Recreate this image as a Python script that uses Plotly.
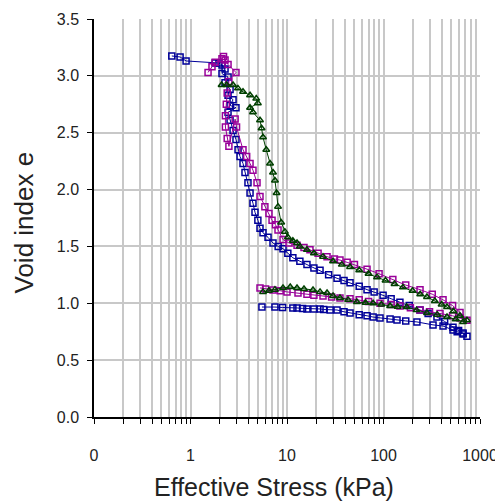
import plotly.graph_objects as go

# ---- data (effective stress kPa, void index e) ----
blue_load_x = [0.64, 0.78, 0.90, 1.80, 1.97, 2.12, 2.28, 2.12, 2.45, 2.28, 2.57, 2.45, 2.76, 2.57, 2.96, 2.45, 2.57, 2.76, 2.96, 3.11,
               3.26, 3.50, 3.67, 3.94, 4.14, 4.44, 4.66, 4.99, 5.25, 5.64, 6.36, 7.16, 8.1, 9.09, 10.2, 11.5, 13.6, 16.1, 19, 22,
               27, 33, 39, 45, 56, 67.5, 80, 99, 120, 148, 185, 239, 290, 358, 430, 525, 600, 667, 733]
blue_load_e = [3.175, 3.166, 3.131, 3.113, 3.113, 3.096, 3.06, 3.02, 2.99, 2.94, 2.88, 2.83, 2.79, 2.74, 2.72, 2.68, 2.61, 2.52, 2.44, 2.35,
               2.29, 2.23, 2.15, 2.06, 1.97, 1.88, 1.80, 1.73, 1.66, 1.62, 1.58, 1.53, 1.50, 1.48, 1.44, 1.40, 1.37, 1.34, 1.31, 1.29,
               1.25, 1.22, 1.20, 1.18, 1.15, 1.12, 1.10, 1.07, 1.04, 1.01, 0.98, 0.94, 0.91, 0.88, 0.84, 0.79, 0.76, 0.73, 0.71]
blue_unload_x = [667, 580, 525, 414, 326, 222, 170, 138, 117, 92, 78, 67.5, 56, 45, 39, 33, 28, 24, 22, 19, 16.1, 14.5, 12.7, 11.5, 9.0, 7.5, 5.5]
blue_unload_e = [0.739, 0.75, 0.765, 0.80, 0.81, 0.836, 0.845, 0.853, 0.862, 0.870, 0.879, 0.89, 0.90, 0.915, 0.925, 0.941, 0.941, 0.945, 0.950, 0.950, 0.950, 0.955, 0.959, 0.959, 0.963, 0.967, 0.967]

purple_load_x = [1.52, 1.67, 1.80, 2.12, 2.20, 2.28, 2.45, 2.96, 2.50, 2.40, 2.35, 2.30, 2.30, 2.40, 2.50, 2.90, 3.0, 3.5, 3.82, 4.14,
                 4.44, 4.89, 5.25, 5.9, 6.5, 7.0, 7.6, 8.07, 9.1, 10.5, 12.7, 15, 17.3, 21, 26, 31, 35.4, 42, 50, 67.5,
                 90, 125, 170, 239, 320, 414, 520, 621, 733]
purple_load_e = [3.03, 3.08, 3.12, 3.15, 3.17, 3.14, 3.10, 3.03, 2.95, 2.85, 2.75, 2.65, 2.55, 2.45, 2.38, 2.62, 2.55, 2.35, 2.29, 2.23,
                 2.17, 2.06, 1.94, 1.85, 1.79, 1.73, 1.69, 1.645, 1.56, 1.53, 1.51, 1.49, 1.47, 1.44, 1.41, 1.39, 1.38, 1.36, 1.34, 1.30,
                 1.26, 1.21, 1.16, 1.12, 1.08, 1.03, 0.98, 0.92, 0.85]
purple_unload_x = [621, 520, 385, 300, 239, 190, 148, 120, 92, 70, 56, 45, 35.4, 29, 23.6, 19, 16.1, 13, 10, 8.5, 7.16, 6, 5.25]
purple_unload_e = [0.87, 0.89, 0.91, 0.925, 0.94, 0.96, 0.976, 0.99, 1.0, 1.015, 1.03, 1.04, 1.047, 1.055, 1.064, 1.07, 1.08, 1.09, 1.10, 1.11, 1.117, 1.125, 1.135]

green_load_x = [2.1, 2.37, 2.76, 3.1, 3.5, 4.14, 4.8, 4.99, 4.14, 4.44, 5.25, 5.45, 5.64, 6.1, 6.67, 7.16, 7.5, 7.8, 8.07, 8.7,
                9.5, 10.2, 11.5, 12.7, 13.6, 16.1, 19, 23.6, 30, 37, 45, 56, 70, 85.7, 105, 130, 159, 200, 240, 282,
                340, 400, 455, 530, 620, 733]
green_load_e = [2.92, 2.92, 2.92, 2.89, 2.86, 2.83, 2.80, 2.76, 2.72, 2.68, 2.61, 2.54, 2.46, 2.35, 2.23, 2.15, 2.08, 1.97, 1.85, 1.71,
                1.63, 1.58, 1.55, 1.53, 1.50, 1.47, 1.44, 1.41, 1.37, 1.34, 1.32, 1.29, 1.26, 1.23, 1.20, 1.17, 1.14, 1.11, 1.08, 1.055,
                1.02, 0.99, 0.967, 0.93, 0.89, 0.85]
green_unload_x = [667, 560, 455, 360, 282, 220, 174, 140, 117, 95, 78, 65, 53, 43, 35.4, 30, 26, 22, 18.6, 15, 12.7, 10.8, 9.09, 7.5, 6.5, 5.64]
green_unload_e = [0.836, 0.86, 0.879, 0.90, 0.915, 0.94, 0.967, 0.97, 0.976, 0.99, 1.0, 1.005, 1.011, 1.03, 1.047, 1.065, 1.09, 1.10, 1.117, 1.125, 1.135, 1.143, 1.135, 1.12, 1.11, 1.10]

x_tick_labels = {0.1: "0", 1: "1", 10: "10", 100: "100", 1000: "1000"}
y_ticks = [0.0, 0.5, 1.0, 1.5, 2.0, 2.5, 3.0, 3.5]
x_title = "Effective Stress (kPa)"
y_title = "Void index e"

series = [
    ("Blue", blue_load_x + blue_unload_x, blue_load_e + blue_unload_e, "#000099", "square-open"),
    ("Purple", purple_load_x + purple_unload_x, purple_load_e + purple_unload_e, "#990099", "square-open"),
    ("Green", green_load_x + green_unload_x, green_load_e + green_unload_e, "#004000", "triangle-up-open"),
]

fig = go.Figure()
for name, xs, es, col, sym in series:
    fig.add_trace(go.Scatter(
        x=xs, y=es, mode="lines+markers", name=name,
        line=dict(color=col, width=1),
        marker=dict(symbol=sym, size=6, color=col, line=dict(color=col, width=1.5)),
    ))

# all decade/minor positions for grid + ticks
tickvals = []
ticktext = []
for dec in [0.1, 1, 10, 100]:
    for m in range(1, 10):
        v = round(dec * m, 6)
        tickvals.append(v)
        ticktext.append(x_tick_labels.get(v, ""))
tickvals.append(1000)
ticktext.append("1000")

font_fam = "Liberation Sans, Arial, sans-serif"
title_color = "#222222"
# page body has an 8px default margin, so the figure is sized/offset to compensate
fig.update_layout(
    width=495, height=494,
    margin=dict(l=86, r=23, t=11, b=85, autoexpand=False),
    paper_bgcolor="white", plot_bgcolor="white",
    showlegend=False,
    font=dict(family=font_fam, color="#222222"),
    annotations=[
        dict(text=x_title, xref="paper", yref="paper", x=0.4676, y=-0.176,
             xanchor="center", yanchor="middle", showarrow=False,
             font=dict(size=25, family=font_fam, color=title_color)),
        dict(text=y_title, xref="paper", yref="paper", x=-0.181, y=0.489,
             xanchor="center", yanchor="middle", showarrow=False, textangle=-90,
             font=dict(size=26, family=font_fam, color=title_color)),
    ],
)
fig.update_xaxes(
    type="log", range=[-1, 3], automargin=False,
    tickvals=tickvals, ticktext=ticktext,
    showgrid=True, gridcolor="#c8c8c8", gridwidth=1.5,
    showline=True, linecolor="black", linewidth=1.5,
    ticks="outside", ticklen=5, tickcolor="black", tickwidth=1.2,
    ticklabelstandoff=18,
    tickfont=dict(size=16, family=font_fam, color="#222222"),
    zeroline=False,
)
fig.update_yaxes(
    range=[0, 3.5], automargin=False, tickvals=y_ticks, ticktext=[f"{v:.1f}" for v in y_ticks],
    showgrid=True, gridcolor="#c8c8c8", gridwidth=1.5,
    showline=True, linecolor="black", linewidth=1.5,
    ticks="outside", ticklen=5, tickcolor="black", tickwidth=1.2,
    ticklabelstandoff=5,
    tickfont=dict(size=16, family=font_fam, color="#222222"),
    zeroline=False,
)

fig.write_html("out.html")
